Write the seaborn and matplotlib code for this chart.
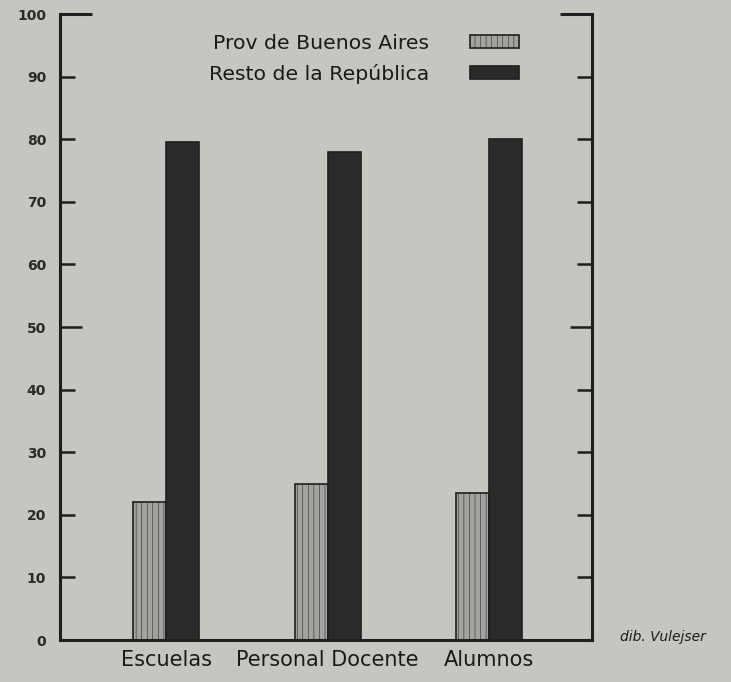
import matplotlib
matplotlib.use("Agg")
import matplotlib.pyplot as plt
from matplotlib.patches import Patch
import pandas as pd
import seaborn as sns

# values (percent)
categories = ["Escuelas", "Personal Docente", "Alumnos"]
series_names = ["Prov de Buenos Aires", "Resto de la República"]
buenos_aires = [22, 25, 23.5]
resto = [79.5, 78, 80]
y_ticks = [0, 10, 20, 30, 40, 50, 60, 70, 80, 90, 100]

paper = "#c6c6c1"
ink = "#1e1e1e"
colors = ["#a2a29e", "#2a2a2a"]

df = pd.DataFrame({
    "Categoria": categories * 2,
    "Serie": [series_names[0]] * 3 + [series_names[1]] * 3,
    "Valor": buenos_aires + resto,
})

sns.set_style("white")
plt.rcParams["font.family"] = ["DejaVu Sans"]
plt.rcParams["hatch.linewidth"] = 0.35

fig = plt.figure(figsize=(7.31, 6.82), dpi=100, facecolor=paper)
ax = fig.add_axes([60 / 731, 1 - 640 / 682, 532 / 731, 626 / 682])
ax.set_facecolor(paper)

sns.barplot(data=df, x="Categoria", y="Valor", hue="Serie",
            hue_order=series_names, palette=colors, width=0.41,
            edgecolor=ink, linewidth=1.2, saturation=1, legend=False, ax=ax)

# vertical stripes on the light bars
for bar in ax.containers[0]:
    bar.set_hatch("|||")

ax.set_xlim(-0.66, 2.64)
ax.set_ylim(0, 100)
ax.set_yticks(y_ticks)
ax.set_yticklabels([str(t) for t in y_ticks], fontsize=10, fontweight="bold", color="#2a2a2a")
ax.set_xlabel("")
ax.set_ylabel("")

for side in ["left", "right", "bottom"]:
    ax.spines[side].set_visible(True)
    ax.spines[side].set_color(ink)
    ax.spines[side].set_linewidth(2.2)
ax.spines["top"].set_visible(False)

ax.tick_params(axis="y", direction="in", length=11, width=1.8, color=ink,
               left=True, right=True, labelleft=True, labelright=False, pad=10)
ax.tick_params(axis="x", length=0, pad=7, labelsize=15, labelcolor="#1a1a1a")

# longer marks at 50 and at the top
for i, t in enumerate(ax.yaxis.get_major_ticks()):
    if y_ticks[i] == 50:
        t.tick1line.set_markersize(16)
        t.tick2line.set_markersize(16)
    if y_ticks[i] == 100:
        t.tick1line.set_markersize(23)
        t.tick2line.set_markersize(23)
        t.tick1line.set_markeredgewidth(2.2)
        t.tick2line.set_markeredgewidth(2.2)

handles = [
    Patch(facecolor=colors[0], edgecolor=ink, hatch="|||", linewidth=1.2, label=series_names[0]),
    Patch(facecolor=colors[1], edgecolor=ink, linewidth=1.2, label=series_names[1]),
]
ax.legend(handles=handles, loc="upper left", bbox_to_anchor=(0.246, 0.998),
          frameon=False, markerfirst=False, fontsize=14.7, handlelength=2.4,
          handleheight=0.6, handletextpad=2.0, labelspacing=0.55,
          labelcolor="#1a1a1a")

fig.text(620 / 731, 1 - 637 / 682, "dib. Vulejser", fontsize=10,
         fontstyle="italic", color="#1a1a1a", va="center", ha="left")

fig.savefig("out.png", dpi=100, facecolor=paper)
